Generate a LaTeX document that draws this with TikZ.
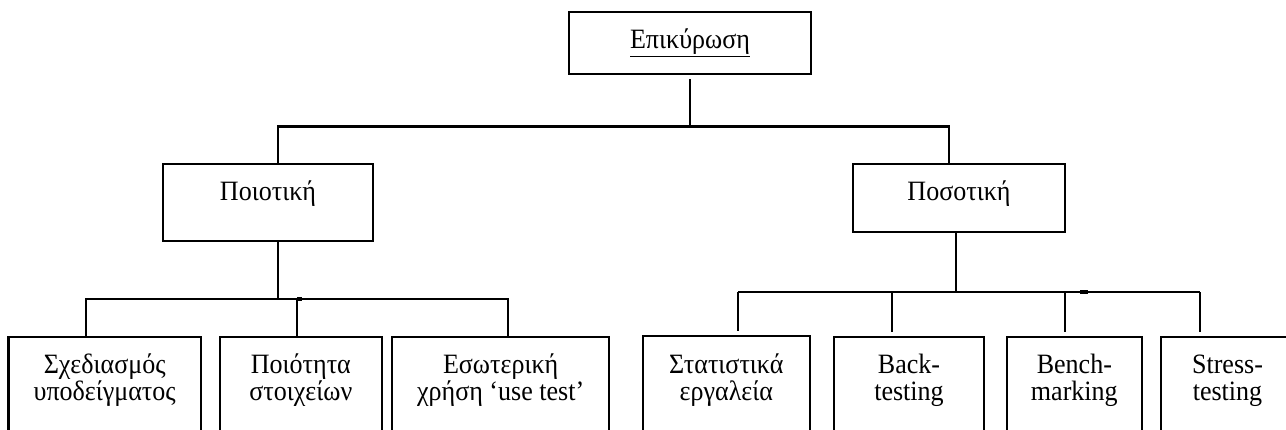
\documentclass[tikz,border=0pt]{standalone}
\usepackage{fontspec}
\setmainfont{Liberation Serif}[FakeStretch=0.93]
\usetikzlibrary{calc}
\newcommand{\twol}[2]{\vtop{\baselineskip=26.7pt\lineskiplimit=-100pt\halign{\hfil##\hfil\cr #1\cr #2\cr}}}
\begin{document}
\begin{tikzpicture}[x=1pt,y=-1pt,
  box/.style={draw,line width=2.3pt,inner sep=0pt},
  conn/.style={line width=2.1pt},
  gap/.style={shorten >=4pt},
  lbl/.style={inner sep=0pt,anchor=base,font=\fontsize{28}{26.7}\selectfont}]
\useasboundingbox (0,0) rectangle (1286,429);
\clip (0,0) rectangle (1286,429);
% boxes
\node[box,minimum width=242pt,minimum height=62pt] (top) at (690,43) {};
\node[box,minimum width=210pt,minimum height=77pt] (qual) at (268,202.5) {};
\node[box,minimum width=212pt,minimum height=68pt] (quant) at (959,198) {};
\node[box,minimum width=192.7pt,minimum height=133pt] (b1) at (104.7,403.5) {};
\node[box,minimum width=161.7pt,minimum height=133pt] (b2) at (300.85,403.5) {};
\node[box,minimum width=216.7pt,minimum height=133pt] (b3) at (500.65,403.5) {};
\node[box,minimum width=167.3pt,minimum height=134pt] (b4) at (726.35,403) {};
\node[box,minimum width=149.4pt,minimum height=133pt] (b5) at (909,403.5) {};
\node[box,minimum width=134.7pt,minimum height=133pt] (b6) at (1074.35,403.5) {};
\node[box,minimum width=133pt,minimum height=133pt] (b7) at (1227.5,403.5) {};
% texts
\node[lbl] (topt) at ($(top.north)+(0,38)$) {\underline{Επικύρωση}};
\node[lbl] (qualt) at ($(qual.north)+(0,38)$) {Ποιοτική};
\node[lbl] (quantt) at ($(quant.north)+(0,38)$) {Ποσοτική};
\node[lbl] (b1t) at ($(b1.north)+(0,38)$) {\twol{Σχεδιασμός}{υποδείγματος}};
\node[lbl] (b2t) at ($(b2.north)+(0,38)$) {\twol{Ποιότητα}{στοιχείων}};
\node[lbl] (b3t) at ($(b3.north)+(0,38)$) {\twol{Εσωτερική}{χρήση ‘use test’}};
\node[lbl] (b4t) at ($(b4.north)+(0,39)$) {\twol{Στατιστικά}{εργαλεία}};
\node[lbl] (b5t) at ($(b5.north)+(0,38)$) {\twol{Back-}{testing}};
\node[lbl] (b6t) at ($(b6.north)+(0,38)$) {\twol{Bench-}{marking}};
\node[lbl] (b7t) at ($(b7.north)+(0,38)$) {\twol{Stress-}{testing}};
% junctions
\coordinate (bus1L) at (277.7,126.5);
\coordinate (bus1R) at (949,126.5);
\coordinate (q2) at (277.7,299);
\coordinate (b2L) at (85.7,299);
\coordinate (b2M) at (296.7,299);
\coordinate (b2R) at (508.3,299);
\coordinate (q3) at (956,292);
\coordinate (r1) at (738.3,292);
\coordinate (r2) at (892,292);
\coordinate (r3) at (1065,292);
\coordinate (r4) at (1200.3,292);
% connectors
\draw[conn,shorten <=4pt] (top.south) -- (top.south |- bus1L);
\draw[conn] (qual.north -| bus1L) -- (bus1L) -- (bus1R) -- (quant.north -| bus1R);
\draw[conn] (qual.south -| q2) -- (q2);
\draw[conn] (b1.north -| b2L) -- (b2L) -- (b2R) -- (b3.north -| b2R);
\draw[conn] (b2M) -- (b2.north -| b2M);
\draw[conn] (quant.south -| q3) -- (q3);
\draw[conn] (r1) -- (r4);
\draw[conn,gap] (r1) -- (b4.north -| r1);
\draw[conn,gap] (r2) -- (b5.north -| r2);
\draw[conn,gap] (r3) -- (b6.north -| r3);
\draw[conn,gap] (r4) -- (b7.north -| r4);
% small thick marks on the buses
\fill (297,297.3) rectangle (302,300.8);
\fill (1080,290.3) rectangle (1088,293.8);
\end{tikzpicture}
\end{document}
